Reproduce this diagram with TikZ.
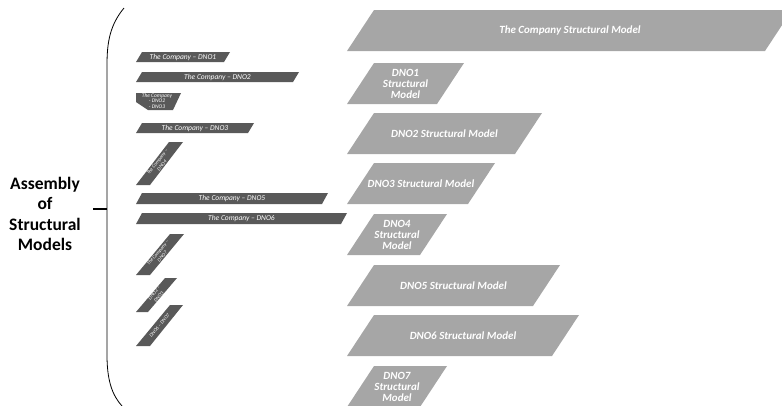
\documentclass[tikz,border=0pt]{standalone}
\usepackage{fontspec}
\setmainfont{Carlito}
\usepackage{xcolor}
\usepackage{tikz}
\definecolor{pairgray}{HTML}{595959}
\definecolor{modelgray}{HTML}{A6A6A6}
\tikzset{pair/.style = {fill=pairgray},
  model/.style = {fill=modelgray},
  pair label/.style = {text=white,inner sep=0pt,align=center,
    font=\itshape\fontsize{7.5}{7.5}\selectfont},
  tiny label/.style = {text=white,inner sep=0pt,align=center,
    font=\itshape\fontsize{5}{6}\selectfont},
  model label/.style = {text=white,inner sep=0pt,align=center,
    font=\bfseries\itshape\fontsize{11}{11}\selectfont}
  }
% slanted slab: style, left x, top y, width, height, slant
\newcommand{\slab}[6]{%
  \fill[#1] (#2,#3+#5) -- ++(#4,0) -- ++(#6,-#5) -- ++(-#4,0) -- cycle;}

\begin{document}
\begin{tikzpicture}[x=1pt,y=-1pt]
        \useasboundingbox (0,0) rectangle (782,405);
        \clip (0,0) rectangle (782,405);
        % brace and title
        \draw[line width=0.8pt] (124,8) .. controls (110,25) and (107,42) .. (107,65)
            -- (107,355) .. controls (107,380) and (112,395) .. (122,406);
        \path (45,214) node[font=\bfseries\fontsize{17.5}{20.5}\selectfont,align=center] (asm)
            {Assembly\\of\\Structural\\Models};
        \coordinate (brace) at (107,209);
        \coordinate (tick) at (93,209);
        \draw[line width=1.2pt] (tick) -- (brace);
        % structural models
        \slab{model}{347}{10}{418}{41}{27}
        \slab{model}{347}{63}{90}{41}{27}
        \slab{model}{347}{113}{168}{41}{27}
        \slab{model}{347}{163}{121}{41}{27}
        \slab{model}{347}{214}{73}{41}{27}
        \slab{model}{347}{265}{186}{41}{27}
        \slab{model}{347}{315}{205}{41}{27}
        \slab{model}{347}{366}{73}{41}{27}
        \path (570,30.5) node[model label] (company) {The Company Structural Model}
            (405.5,83.5) node[model label] (dno1) {DNO1\\Structural\\Model}
            (444.5,133.5) node[model label] (dno2) {DNO2 Structural Model}
            (421,183.5) node[model label] (dno3) {DNO3 Structural Model}
            (397,234.5) node[model label] (dno4) {DNO4\\Structural\\Model}
            (453.5,285.5) node[model label] (dno5) {DNO5 Structural Model}
            (463,335.5) node[model label] (dno6) {DNO6 Structural Model}
            (397,386.5) node[model label] (dno7) {DNO7\\Structural\\Model};
        % company / DNO pairs
        \slab{pair}{136}{52}{88}{10}{6}
        \slab{pair}{136}{72}{157}{10}{6}
        \slab{pair}{136}{123}{112}{10}{6}
        \slab{pair}{136}{193}{186}{11}{6}
        \slab{pair}{136}{213}{205}{11}{6}
        \fill[pair] (136,93) -- (181,93) -- (173,110) -- (148,110) -- (136,102) -- cycle;
        \fill[pair] (136,185) -- (150,185) -- (183,142) -- (169,142) -- cycle;
        \fill[pair] (136,275) -- (150,275) -- (184,234) -- (170,234) -- cycle;
        \fill[pair] (136,312) -- (148,312) -- (177,278) -- (165,278) -- cycle;
        \fill[pair] (136,346) -- (150,346) -- (183,305) -- (170,305) -- cycle;
        \path (183,57) node[pair label] (c1) {The Company – DNO1}
            (217.5,77) node[pair label] (c2) {The Company – DNO2}
            (157,101) node[tiny label,font=\itshape\fontsize{5.5}{5.8}\selectfont] (c23) {The Company\\- DNO2\\- DNO3}
            (195,128) node[pair label] (c3) {The Company – DNO3}
            (159.5,163.5) node[tiny label,rotate=52] (c4) {The Company –\\DNO4}
            (232,198.5) node[pair label] (c5) {The Company – DNO5}
            (241.5,218.5) node[pair label] (c6) {The Company – DNO6}
            (160,254.5) node[tiny label,rotate=50] (c7) {The Company –\\DNO7}
            (156.5,295) node[tiny label,rotate=50] (d23) {DNO2 –\\DNO3}
            (159.5,325.5) node[tiny label,rotate=51] (d67) {DNO6 – DNO7};
        \end{tikzpicture}
\end{document}
